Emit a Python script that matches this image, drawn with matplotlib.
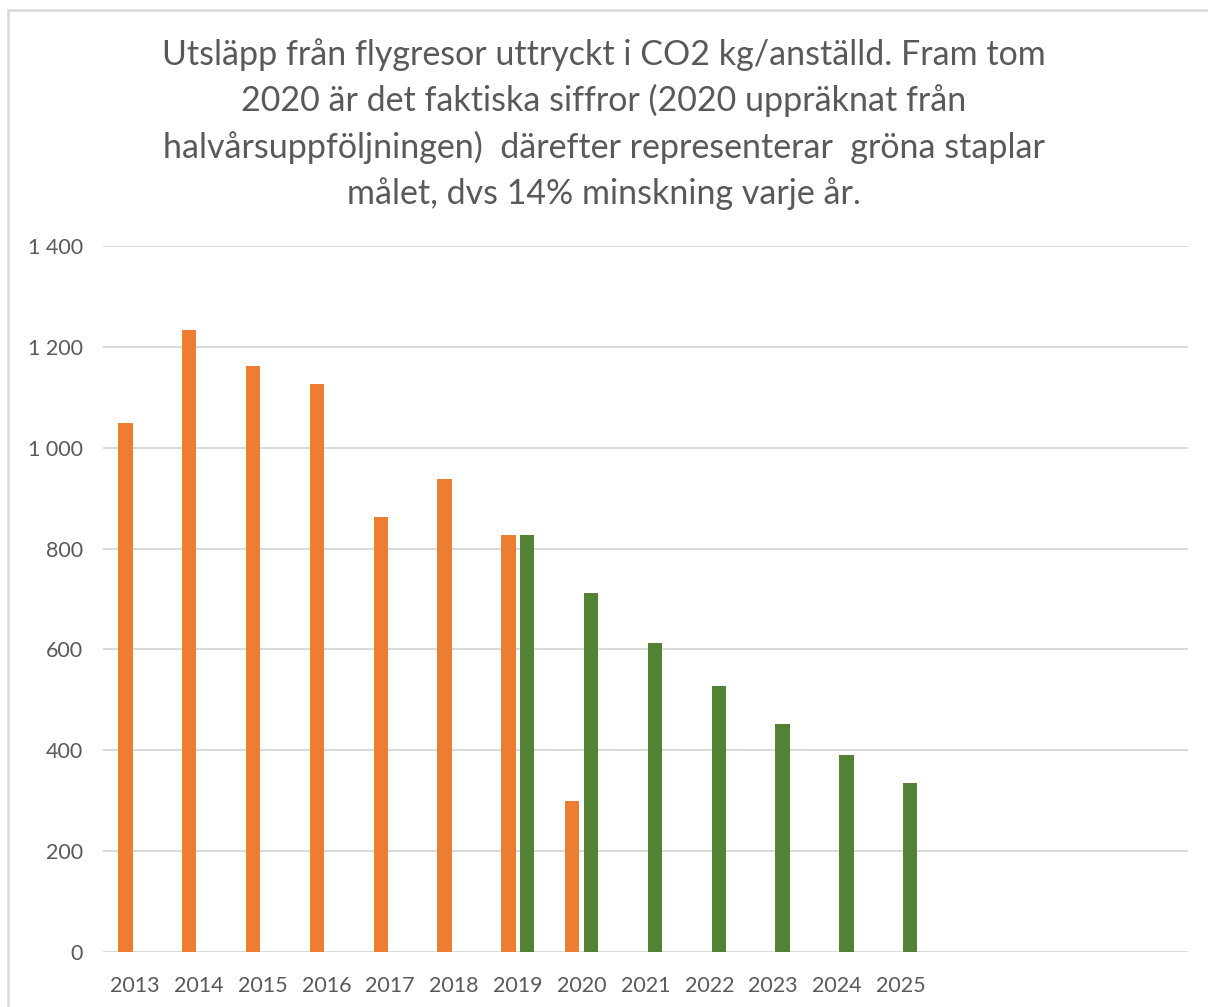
import matplotlib as mpl
mpl.use('Agg')
from matplotlib import pyplot as plt
from matplotlib.patches import Rectangle
import numpy as np

## ------------------------------------------------------------------
##  Data
## ------------------------------------------------------------------
years = ['2013', '2014', '2015', '2016', '2017', '2018', '2019',
         '2020', '2021', '2022', '2023', '2024', '2025', '', '', '', '']
actual = [1050, 1233, 1162, 1127, 862, 938, 826, 300]
target_years = ['2019', '2020', '2021', '2022', '2023', '2024', '2025']
target = [826, 712, 613, 527, 453, 390, 335]

title = ('Utsläpp från flygresor uttryckt i CO2 kg/anställd. Fram tom\n'
         '2020 är det faktiska siffror (2020 uppräknat från\n'
         'halvårsuppföljningen)  därefter representerar  gröna staplar\n'
         'målet, dvs 14% minskning varje år.')

ORANGE = '#ED7D31'
GREEN = '#548235'
GREY = '#595959'
GRID = '#D9D9D9'

plt.rcParams['font.family'] = ['Lato', 'DejaVu Sans']

fig = plt.figure(figsize=(12.08, 10.07), dpi=100)
ax = fig.add_axes([103/1208, 1 - 952/1007, 1085/1208, (952-246)/1007])

x = np.arange(len(years))
w = 0.225
off = 0.148
xa = x[:len(actual)]
xt = np.array([years.index(y) for y in target_years])
ax.bar(xa - off, actual, width=w, color=ORANGE, zorder=3)
ax.bar(xt + off, target, width=w, color=GREEN, zorder=3)

ax.set_xlim(-0.5, len(years) - 0.5)
ax.set_ylim(0, 1400)
ax.set_yticks(np.arange(0, 1401, 200))
ax.set_yticklabels([f'{v:,}'.replace(',', ' ') for v in range(0, 1401, 200)])
ax.set_xticks(x)
ax.set_xticklabels(years)
ax.tick_params(axis='both', length=0, labelsize=15.5, colors=GREY)
ax.tick_params(axis='y', pad=14.5)
ax.tick_params(axis='x', pad=17)

ax.grid(axis='y', color=GRID, linewidth=1.4, zorder=0)
for s in ax.spines.values():
    s.set_visible(False)

# chart area border (cropped screenshot: only top and left visible)
fig.patches.append(Rectangle((8/1208, -0.1), 1.2, (1007 - 10)/1007 + 0.1,
                             transform=fig.transFigure, fill=False,
                             edgecolor=GRID, linewidth=1.8))

fig.text(0.5, 1 - 124/1007, title, ha='center', va='center',
         fontsize=24.5, color=GREY, linespacing=1.49)

fig.savefig('out.png', dpi=100)
